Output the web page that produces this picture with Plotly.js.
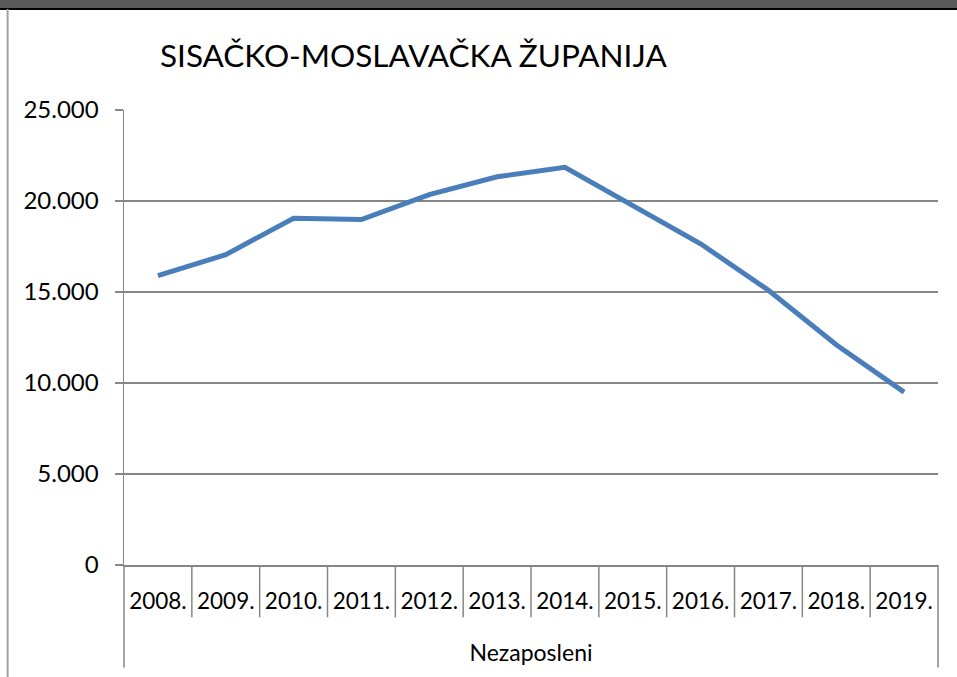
<!DOCTYPE html>
<html><head><meta charset="utf-8">
<script src="https://cdn.plot.ly/plotly-3.0.1.min.js"></script>
<style>html,body{margin:0;padding:0;background:#fff;}#chart{width:957px;height:677px;}</style>
</head><body><div id="chart"></div>
<script>
const years = ['2008.','2009.','2010.','2011.','2012.','2013.','2014.','2015.','2016.','2017.','2018.','2019.'];
const nezaposleni = [15900, 17050, 19050, 18980, 20350, 21330, 21850, 19750, 17650, 15100, 12100, 9500];
const yTicks = [0, 5000, 10000, 15000, 20000, 25000];
const groupLabel = 'Nezaposleni';
const chartTitle = 'SISAČKO-MOSLAVAČKA ŽUPANIJA';

const gray = '#868686';
const font = 'Lato, "Open Sans", sans-serif';
const n = years.length;

const shapes = [];
for (let i = 1; i < n; i++) {
  shapes.push({type:'line', xref:'x domain', yref:'paper', x0:i/n, x1:i/n, y0:0, y1:-0.115, line:{color:gray, width:1.5}});
}
[0, 1].forEach(v => shapes.push({type:'line', xref:'x domain', yref:'paper', x0:v, x1:v, y0:0, y1:-0.225, line:{color:gray, width:1.5}}));
shapes.push({type:'rect', xref:'paper', yref:'paper', x0:-0.2, x1:1.1, y0:1.222, y1:1.3, fillcolor:'#595959', line:{width:0}, layer:'above'});
shapes.push({type:'line', xref:'paper', yref:'paper', x0:-0.2, x1:1.1, y0:1.222, y1:1.222, line:{color:'#000', width:2}, layer:'above'});
shapes.push({type:'line', xref:'paper', yref:'paper', x0:-0.143, x1:-0.143, y0:-0.3, y1:1.222, line:{color:'#a0a0a0', width:2}});

const data = [{
  type:'scatter', mode:'lines', x: years, y: nezaposleni,
  line:{color:'#4A7EBB', width:5}, hoverinfo:'skip'
}];

const layout = {
  width:957, height:677,
  margin:{l:124, r:19, t:110, b:112},
  paper_bgcolor:'#fff', plot_bgcolor:'#fff',
  separators:',.',
  showlegend:false,
  font:{family:font, color:'#000'},
  title:{text:chartTitle, font:{family:font, size:31.5, color:'#000'}, x:160/957, xanchor:'left', y:1-56/677, yanchor:'middle'},
  xaxis:{
    type:'category', categoryorder:'array', categoryarray:years,
    range:[-0.5, n-0.5], showgrid:false, zeroline:false,
    showline:true, linecolor:gray, linewidth:1.5,
    ticks:'', tickfont:{family:font, size:22.5, color:'#000'},
    ticklabelstandoff:15,
    title:{text:groupLabel, font:{family:font, size:23, color:'#000'}, standoff:32},
    fixedrange:true
  },
  yaxis:{
    range:[0, 25000], tickvals:yTicks, tickformat:',d',
    showgrid:true, gridcolor:gray, gridwidth:1.5,
    zeroline:false, showline:true, linecolor:gray, linewidth:1.5,
    ticks:'outside', ticklen:8, tickcolor:gray, tickwidth:1.5,
    tickfont:{family:font, size:24, color:'#000'},
    ticklabelstandoff:11, fixedrange:true
  },
  shapes: shapes
};
Plotly.newPlot('chart', data, layout, {staticPlot:true, displayModeBar:false});
</script></body></html>
